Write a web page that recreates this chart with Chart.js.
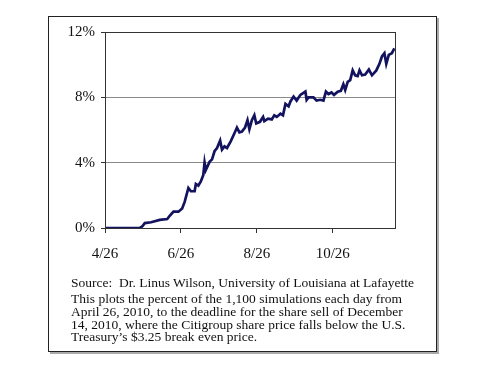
<!DOCTYPE html>
<html>
<head>
<meta charset="utf-8">
<script src="https://cdn.jsdelivr.net/npm/chart.js@4"></script>
<style>
  html, body { margin: 0; padding: 0; background: #fff; }
  #wrap { position: relative; width: 489px; height: 367px; overflow: hidden; }
  #frame {
    position: absolute; left: 48px; top: 16px; width: 387px; height: 334px;
    border: 1px solid #222; box-shadow: 2px 2px 0 #aaa;
  }
  canvas { position: absolute; left: 0; top: 0; }
  .note {
    position: absolute; left: 71px; font-family: "Liberation Serif", "Times New Roman", serif;
    font-size: 13.5px; color: #111; white-space: nowrap;
  }
  #src { top: 275px; line-height: 16px; }
  #desc { top: 293px; line-height: 12.8px; }
</style>
</head>
<body>
<div id="wrap">
  <div id="frame"></div>
  <canvas id="chart" width="489" height="367"></canvas>
  <div class="note" id="src">Source:&nbsp; Dr. Linus Wilson, University of Louisiana at Lafayette</div>
  <div class="note" id="desc">This plots the percent of the 1,100 simulations each day from<br>April 26, 2010, to the deadline for the share sell of December<br>14, 2010, where the Citigroup share price falls below the U.S.<br>Treasury’s $3.25 break even price.</div>
</div>
<script>
/* ================================
   Data (days since 4/26/2010, % of simulations)
================================ */
const days = [0, 28, 30, 32, 37, 44, 50, 52, 55, 59, 62, 64, 67, 69, 72, 73, 75, 77, 79, 80,
  81, 84, 86, 88, 90, 92.5, 94, 96, 98, 101, 104, 106, 108, 110, 112.5, 114.5, 116, 118, 120, 121.5,
  124.5, 127, 128, 131, 134, 136, 138, 141, 143, 145, 147.5, 149, 151.5, 154, 157, 161, 162, 163.5,
  167.5, 170, 173, 175.5, 177.5, 179.5, 182, 184, 187, 189.5, 191.5, 193, 195, 197, 199, 201, 203,
  204.5, 206.5, 209, 212, 214.5, 218, 220.5, 222.5, 224.5, 226, 228, 230.5, 232.5];
const pct = [0, 0, 0.1, 0.3, 0.35, 0.5, 0.55, 0.75, 1.0, 1.0, 1.2, 1.6, 2.45, 2.25, 2.25, 2.7, 2.6, 2.85, 3.25, 4.0,
  3.55, 4.05, 4.2, 4.7, 4.9, 5.35, 4.8, 5.0, 4.9, 5.3, 5.8, 6.15, 5.85, 5.9, 6.15, 6.6, 6.05, 6.6, 6.9, 6.4,
  6.5, 6.8, 6.55, 6.7, 6.65, 6.9, 6.8, 7.0, 6.9, 7.6, 7.45, 7.75, 8.05, 7.8, 8.15, 8.35, 7.85, 8.0,
  8.0, 7.8, 7.85, 7.8, 8.35, 8.2, 8.3, 8.15, 8.35, 8.4, 8.8, 8.45, 8.95, 9.05, 9.65, 9.35, 9.3,
  9.65, 9.35, 9.4, 9.7, 9.35, 9.65, 10.05, 10.5, 10.7, 10.05, 10.6, 10.7, 11.0];

const xTickDays = [0, 61, 122, 183];
const xTickLabels = ["4/26", "6/26", "8/26", "10/26"];
const yTicks = [0, 4, 8, 12];

/* ================================
   Plot border
================================ */
const borderPlugin = {
  id: "plotBorder",
  afterDraw(chart) {
    const { ctx, chartArea: a } = chart;
    ctx.save();
    ctx.strokeStyle = "#333";
    ctx.lineWidth = 1;
    ctx.strokeRect(Math.round(a.left) + 0.5, Math.round(a.top) + 0.5,
      Math.round(a.right - a.left), Math.round(a.bottom - a.top));
    ctx.restore();
  }
};

const tickFont = { family: "'Liberation Serif', 'Times New Roman', serif", size: 15 };

new Chart(document.getElementById("chart"), {
  type: "line",
  data: {
    datasets: [{
      data: days.map((d, i) => ({ x: d, y: pct[i] })),
      borderColor: "#12125f",
      borderWidth: 2.7,
      pointRadius: 0,
      tension: 0,
      fill: false
    }]
  },
  options: {
    responsive: false,
    animation: false,
    events: [],
    layout: { padding: { left: 48, top: 32, right: 94, bottom: 109 } },
    plugins: { legend: { display: false }, tooltip: { enabled: false } },
    scales: {
      x: {
        type: "linear",
        min: 0,
        max: 233,
        afterBuildTicks: s => { s.ticks = xTickDays.map(v => ({ value: v })); },
        afterFit: s => { s.height = 30; },
        border: { display: false },
        grid: { drawOnChartArea: false, drawTicks: true, tickLength: 5, tickColor: "#333" },
        ticks: {
          font: tickFont,
          color: "#111",
          padding: 12,
          maxRotation: 0,
          callback: v => xTickLabels[xTickDays.indexOf(v)] || ""
        }
      },
      y: {
        min: 0,
        max: 12,
        afterBuildTicks: s => { s.ticks = yTicks.map(v => ({ value: v })); },
        afterFit: s => { s.width = 57; },
        border: { display: false },
        grid: { color: "#8a8a8a", lineWidth: 1, tickLength: 4, tickColor: "#333" },
        ticks: {
          font: tickFont,
          color: "#111",
          padding: 6,
          callback: v => v + "%"
        }
      }
    }
  },
  plugins: [borderPlugin]
});
</script>
</body>
</html>
